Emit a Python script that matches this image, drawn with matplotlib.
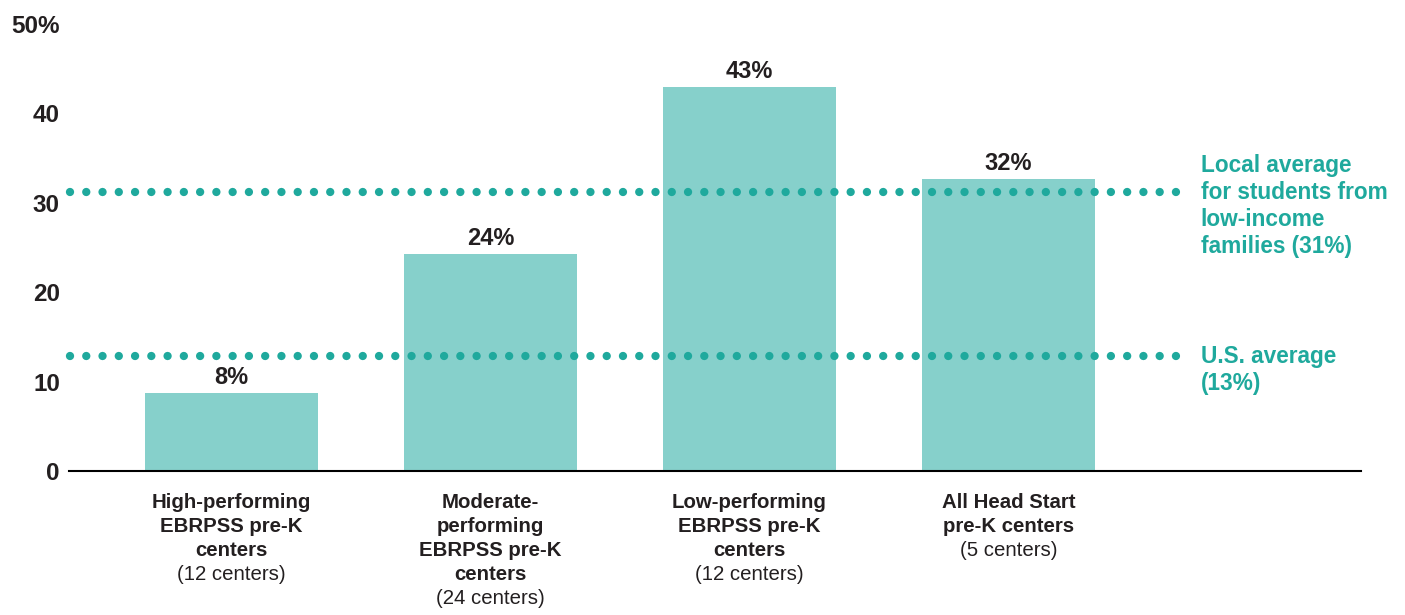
import matplotlib
matplotlib.use("Agg")
import matplotlib.pyplot as plt

# Data
categories = [
    ["High-performing", "EBRPSS pre-K", "centers"],
    ["Moderate-", "performing", "EBRPSS pre-K", "centers"],
    ["Low-performing", "EBRPSS pre-K", "centers"],
    ["All Head Start", "pre-K centers"],
]
center_counts = ["(12 centers)", "(24 centers)", "(12 centers)", "(5 centers)"]
values = [8.7, 24.3, 42.9, 32.6]
value_labels = ["8%", "24%", "43%", "32%"]

local_avg = 31.2
us_avg = 12.8
local_label = ["Local average", "for students from", "low-income", "families (31%)"]
us_label = ["U.S. average", "(13%)"]

yticks = [0, 10, 20, 30, 40, 50]
ytick_labels = ["0", "10", "20", "30", "40", "50%"]

bar_color = "#86d0cb"
teal = "#1fa99d"
dark = "#231f20"

plt.rcParams["font.family"] = ["Liberation Sans", "DejaVu Sans"]
plt.rcParams["lines.scale_dashes"] = False

fig = plt.figure(figsize=(14.05, 6.15), dpi=100)
ax = fig.add_axes([0.0491, 0.2341, 0.9196, 0.7276])

x = list(range(len(values)))
ax.bar(x, values, width=0.668, color=bar_color, zorder=1)

# value labels above bars
for xi, v, lab in zip(x, values, value_labels):
    ax.annotate(lab, (xi, v), xytext=(0, 6.5), textcoords="offset points",
                ha="center", va="baseline", fontsize=17, fontweight="bold", color=dark)

# dotted reference lines
for yv in [local_avg, us_avg]:
    ax.plot([-0.625, 3.655], [yv, yv], color=teal, linewidth=6,
            dashes=(0.01, 11.7), dash_capstyle="round", zorder=3, clip_on=False)

# right-side annotations, one line at a time
def stack_lines(lines, xy, first, step, **kw):
    for i, line in enumerate(lines):
        ax.annotate(line, xy, xytext=(0, first - i * step), textcoords="offset points",
                    va="baseline", annotation_clip=False, **kw)

stack_lines(local_label, (3.742, local_avg), 14.4, 19.4,
            ha="left", fontsize=16.3, fontweight="bold", color=teal)
stack_lines(us_label, (3.742, us_avg), -4.8, 19.6,
            ha="left", fontsize=16.3, fontweight="bold", color=teal)

# category labels below the axis
for xi, lines, count in zip(x, categories, center_counts):
    stack_lines(lines, (xi, 0), -26.3, 17.3,
                ha="center", fontsize=14.7, fontweight="bold", color=dark)
    ax.annotate(count, (xi, 0), xytext=(0, -26.3 - len(lines) * 17.3),
                textcoords="offset points", ha="center", va="baseline",
                fontsize=14.7, color=dark, annotation_clip=False)

ax.set_xlim(-0.627, 4.361)
ax.set_ylim(0, 50)
ax.set_xticks([])
ax.set_yticks(yticks)
ax.set_yticklabels(ytick_labels, fontsize=17.5, fontweight="bold", color=dark)
ax.tick_params(axis="y", length=0, pad=6.5)

for s in ["top", "right", "left"]:
    ax.spines[s].set_visible(False)
ax.spines["bottom"].set_linewidth(1.5)
ax.spines["bottom"].set_color("black")
ax.spines["bottom"].set_zorder(4)

fig.savefig("out.png", dpi=100)
